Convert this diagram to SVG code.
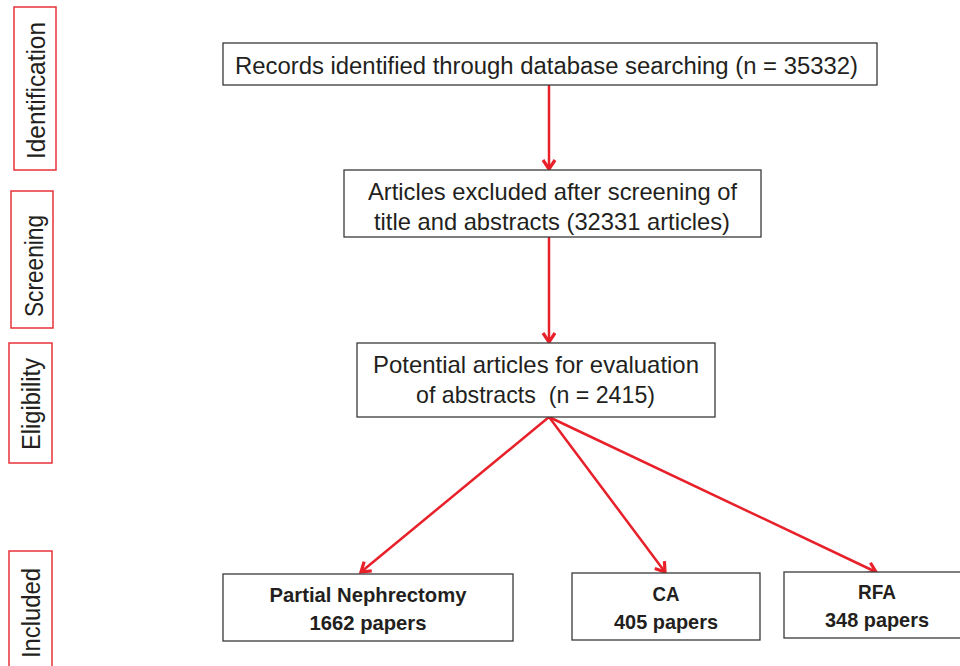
<svg xmlns="http://www.w3.org/2000/svg" width="960" height="666" viewBox="0 0 960 666">
<style>
.box{fill:#fff;stroke:#3a3a3a;stroke-width:1.3}
.side{fill:#fff;stroke:#e8323a;stroke-width:1.5}
.t{font-family:"Liberation Sans",Arial,sans-serif;font-size:23px;fill:#231f20;white-space:pre}
.t2{font-family:"Liberation Sans",Arial,sans-serif;font-size:24px;fill:#231f20;white-space:pre}
.b{font-family:"Liberation Sans",Arial,sans-serif;font-size:21px;font-weight:bold;fill:#231f20}
.s{font-family:"Liberation Sans",Arial,sans-serif;font-size:25px;fill:#231f20}
.c{fill:none;stroke:#e8202a;stroke-width:2.5}
</style>
<defs>
<marker id="ah" markerWidth="16" markerHeight="16" refX="12" refY="8" orient="auto" markerUnits="userSpaceOnUse">
<polyline points="3,2 12,8 3,14" fill="none" stroke="#e8202a" stroke-width="3.2" stroke-linejoin="miter"/>
</marker>
</defs>
<g id="stage-identification">
<rect class="side" x="14" y="7" width="42" height="163"/>
<text class="s" transform="translate(45,90.5) rotate(-90)" text-anchor="middle" textLength="137" lengthAdjust="spacingAndGlyphs">Identification</text>
</g>
<g id="stage-screening">
<rect class="side" x="11" y="191" width="42" height="137"/>
<text class="s" transform="translate(43,266) rotate(-90)" text-anchor="middle" textLength="102" lengthAdjust="spacingAndGlyphs">Screening</text>
</g>
<g id="stage-eligibility">
<rect class="side" x="9" y="343" width="43" height="120"/>
<text class="s" transform="translate(40,404) rotate(-90)" text-anchor="middle" textLength="92" lengthAdjust="spacingAndGlyphs">Eligibility</text>
</g>
<g id="stage-included">
<rect class="side" x="9" y="551" width="43" height="120"/>
<text class="s" transform="translate(40,613) rotate(-90)" text-anchor="middle" textLength="90" lengthAdjust="spacingAndGlyphs">Included</text>
</g>
<g id="connectors">
<line class="c" x1="549" y1="85" x2="549" y2="169" marker-end="url(#ah)"/>
<line class="c" x1="549" y1="237" x2="549" y2="342" marker-end="url(#ah)"/>
<line class="c" x1="549" y1="417" x2="361" y2="572" marker-end="url(#ah)"/>
<line class="c" x1="549" y1="417" x2="665" y2="572" marker-end="url(#ah)"/>
<line class="c" x1="549" y1="417" x2="876" y2="572" marker-end="url(#ah)"/>
</g>
<g id="records">
<rect class="box" x="223" y="43" width="654" height="42"/>
<text class="t" x="235" y="74" textLength="623" lengthAdjust="spacingAndGlyphs">Records identified through database searching (n = 35332)</text>
</g>
<g id="excluded">
<rect class="box" x="344" y="170" width="417" height="67"/>
<text class="t2" x="368" y="200" textLength="369" lengthAdjust="spacingAndGlyphs">Articles excluded after screening of</text>
<text class="t2" x="374" y="230" textLength="356" lengthAdjust="spacingAndGlyphs">title and abstracts (32331 articles)</text>
</g>
<g id="potential">
<rect class="box" x="357" y="343" width="358" height="74"/>
<text class="t2" x="373" y="373" textLength="326" lengthAdjust="spacingAndGlyphs">Potential articles for evaluation</text>
<text class="t2" x="416" y="403" textLength="239" lengthAdjust="spacingAndGlyphs">of abstracts  (n = 2415)</text>
</g>
<g id="partial-nephrectomy">
<rect class="box" x="223" y="574" width="290" height="67"/>
<text class="b" x="368" y="602" text-anchor="middle" textLength="197" lengthAdjust="spacingAndGlyphs">Partial Nephrectomy</text>
<text class="b" x="368" y="630" text-anchor="middle" textLength="117" lengthAdjust="spacingAndGlyphs">1662 papers</text>
</g>
<g id="ca">
<rect class="box" x="572" y="573" width="188" height="67"/>
<text class="b" x="666" y="601" text-anchor="middle" textLength="27" lengthAdjust="spacingAndGlyphs">CA</text>
<text class="b" x="666" y="629" text-anchor="middle" textLength="104" lengthAdjust="spacingAndGlyphs">405 papers</text>
</g>
<g id="rfa">
<rect class="box" x="784" y="572" width="180" height="66"/>
<text class="b" x="877" y="599" text-anchor="middle" textLength="38" lengthAdjust="spacingAndGlyphs">RFA</text>
<text class="b" x="877" y="627" text-anchor="middle" textLength="104" lengthAdjust="spacingAndGlyphs">348 papers</text>
</g>
</svg>
